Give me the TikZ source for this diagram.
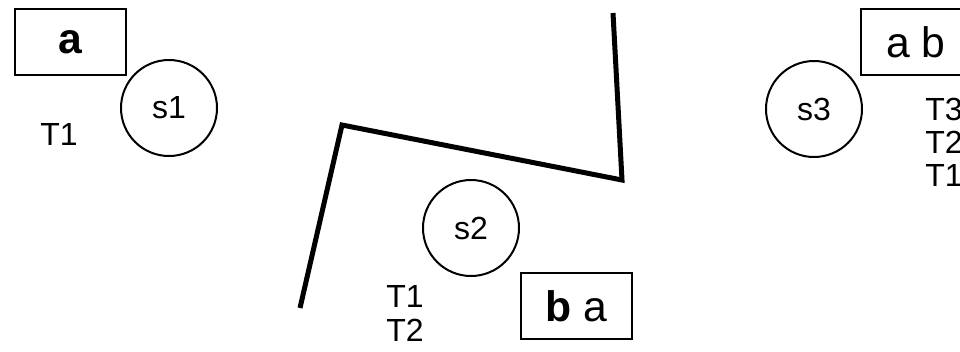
\documentclass[tikz,border=0pt]{standalone}
\usepackage{fontspec}
\setmainfont{Liberation Sans}
\begin{document}
\begin{tikzpicture}[x=0.75pt,y=-0.75pt,
  lbl/.style={font=\fontsize{24}{25.5}\selectfont, inner sep=0pt, align=left},
  boxlbl/.style={draw, line width=1.5pt, minimum width=83.25pt, minimum height=49.5pt, inner sep=0pt, font=\fontsize{32}{36}\selectfont},
  state/.style={draw, circle, line width=1.5pt, minimum size=72pt, inner sep=0pt, font=\fontsize{24}{26}\selectfont},
  wall/.style={line width=3.75pt, line join=miter}]
\useasboundingbox (0,0) rectangle (960,351);
\clip (0,0) rectangle (960,351);
% left group
\node[boxlbl] (ba) at (70.5,42) {\textbf{a}};
\node[state] (s1) at (169,108) {s1};
\node[lbl] (t1a) at (59,134) {T1};
% middle group
\coordinate (w1) at (300,308);
\coordinate (w2) at (342,125);
\coordinate (w3) at (622,180);
\coordinate (w4) at (613,13);
\draw[wall] (w1) -- (w2) -- (w3) -- (w4);
\node[state] (s2) at (471,228) {s2};
\node[lbl, anchor=west] (t1b) at (386,296) {T1};
\node[lbl, anchor=west] (t2b) at (386,330) {T2};
\node[boxlbl] (bb) at (576.5,306) {\textbf{b} a};
% right group
\node[state] (s3) at (814,109) {s3};
\node[boxlbl] (bc) at (916,42) {a b};
\node[lbl, anchor=west] (t3c) at (925,109) {T3};
\node[lbl, anchor=west] (t2c) at (925,142) {T2};
\node[lbl, anchor=west] (t1c) at (925,175) {T1};
\end{tikzpicture}
\end{document}
